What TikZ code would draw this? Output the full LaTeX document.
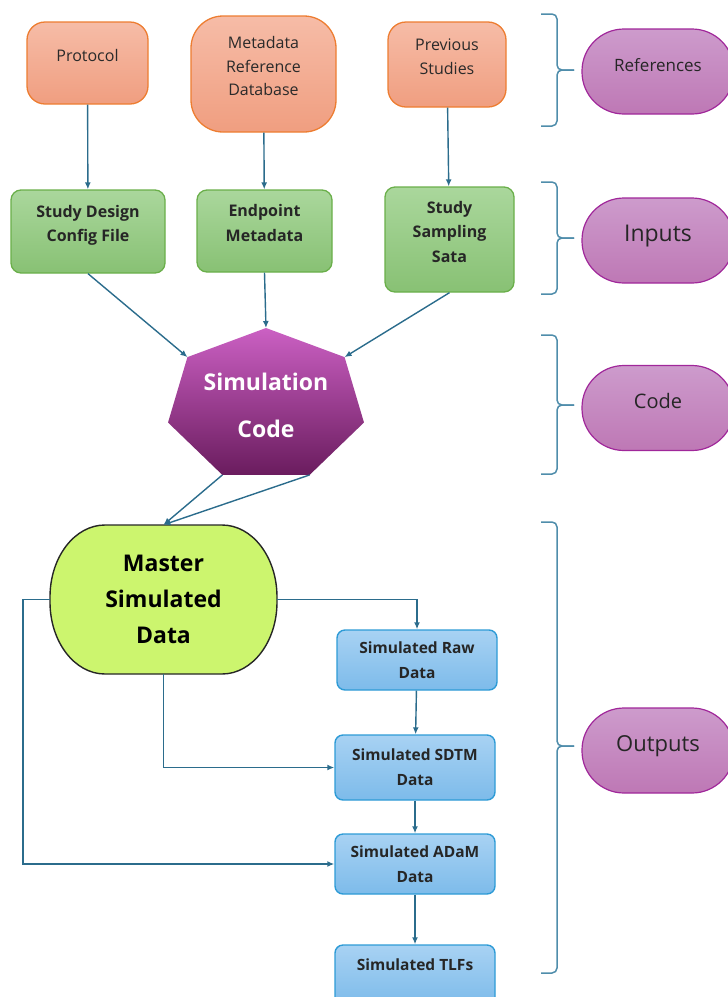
\documentclass[tikz,border=0pt]{standalone}
\usepackage{fontspec}
\setmainfont{Open Sans}
\usetikzlibrary{calc,arrows.meta}

\definecolor{orTop}{HTML}{F6BCA7}
\definecolor{orBot}{HTML}{F09E80}
\definecolor{orEdge}{HTML}{ED7D31}
\definecolor{grTop}{HTML}{AAD79C}
\definecolor{grBot}{HTML}{88C174}
\definecolor{grEdge}{HTML}{6AAF4A}
\definecolor{blTop}{HTML}{A8D2F3}
\definecolor{blBot}{HTML}{7DBBEA}
\definecolor{blEdge}{HTML}{2E9BD6}
\definecolor{puTop}{HTML}{CD9BCC}
\definecolor{puBot}{HTML}{BE78B5}
\definecolor{puEdge}{HTML}{A0279A}
\definecolor{hpTop}{HTML}{CB60C3}
\definecolor{hpBot}{HTML}{6A1C5E}
\definecolor{msFill}{HTML}{CCF56E}
\definecolor{arCol}{HTML}{2B6C8C}
\definecolor{brCol}{HTML}{4F8DAB}
\definecolor{txtGrey}{HTML}{2A2A2A}

% right hand brace: top, bottom, tip
\newcommand{\sidebrace}[3]{%
  \draw[sidebr] (541,#1) -| (557,#3) -- (574,#3);
  \draw[sidebr] (541,#2) -| (557,#3) -- (574,#3);}

\begin{document}
\begin{tikzpicture}[x=1pt, y=-1pt,
                    >={Latex[length=7pt,width=6pt]},
                    refbox/.style={draw=orEdge, line width=1.3pt, top color=orTop, bottom color=orBot, rounded corners=18pt, align=center, text=txtGrey, font=\fontsize{16}{23.5}\selectfont, text depth=16pt},
                    inbox/.style={draw=grEdge, line width=1.3pt, top color=grTop, bottom color=grBot, rounded corners=10pt, align=center, text=black!85, font=\bfseries\fontsize{16}{24.5}\selectfont, text depth=16pt},
                    outbox/.style={draw=blEdge, line width=1.4pt, top color=blTop, bottom color=blBot, rounded corners=8pt, align=center, minimum width=160pt, text=black!85, font=\bfseries\fontsize{15.5}{25}\selectfont},
                    pill/.style={draw=puEdge, line width=1.2pt, top color=puTop, bottom color=puBot, rounded corners=42pt, minimum width=152pt, minimum height=85pt, text=black!85, text depth=14pt},
                    sidebr/.style={draw=brCol, line width=1.5pt, rounded corners=5pt},
                    ra/.style={->, draw=arCol, line width=1.4pt}]

\useasboundingbox (0,0) rectangle (728,997);

% references and inputs
\node [refbox, minimum width=121pt, minimum height=82pt] (proto) at (87.5,63) {Protocol};
\node [refbox, minimum width=145pt, minimum height=116pt, rounded corners=32pt] (mrd) at (263.5,74) {Metadata\\Reference\\Database};
\node [refbox, minimum width=118pt, minimum height=85pt] (prev) at (447,64.5) {Previous\\Studies};

\node [inbox, minimum width=154pt, minimum height=83pt] (sdc) at (88,231.5) {Study Design\\Config File};
\node [inbox, minimum width=135pt, minimum height=82pt] (endp) at (264.5,231) {Endpoint\\Metadata};
\node [inbox, minimum width=129pt, minimum height=105pt] (ssd) at (449.5,239.5) {Study\\Sampling\\Sata};

% simulation code heptagon
\coordinate (codec) at (266,405.3);
\foreach \i in {1,...,7}
  \coordinate (hp\i) at ($(codec)+({270+(\i-1)*360/7}:100.5 and 77.3)$);
\draw [draw=none, top color=hpTop, bottom color=hpBot] (hp1) \foreach \i in {2,...,7}{ -- (hp\i)} -- cycle;
\node [text=white, align=center, font=\bfseries\fontsize{23}{47}\selectfont] (code) at (codec) {Simulation\\Code};

% master data, flat top and bottom with elliptic ends
\draw [draw=black!85, line width=1.4pt, fill=msFill]
  (105,525) -- (222,525) .. controls (252.4,525) and (277,557.2) .. (277,597) -- (277,602)
  .. controls (277,641.8) and (252.4,674) .. (222,674) -- (105,674)
  .. controls (74.6,674) and (50,641.8) .. (50,602) -- (50,597)
  .. controls (50,557.2) and (74.6,525) .. (105,525) -- cycle;
\node [minimum width=227pt, minimum height=149pt, align=center, font=\bfseries\fontsize{23}{36}\selectfont, text depth=0pt] (master) at (163.5,599.5) {Master\\Simulated\\Data};

% outputs
\node [outbox, minimum height=60pt] (raw) at (417,660) {Simulated Raw\\Data};
\node [outbox, minimum height=65pt] (sdtm) at (415,767.5) {Simulated SDTM\\Data};
\node [outbox, minimum height=60pt] (adam) at (415,864) {Simulated ADaM\\Data};
\node [outbox, minimum height=60pt, text depth=20pt] (tlf) at (415,975) {Simulated TLFs};

% side labels
\node [pill, font=\fontsize{17}{20}\selectfont] (lref) at (658,71.5) {References};
\node [pill, font=\fontsize{23}{26}\selectfont] (linp) at (658,240.5) {Inputs};
\node [pill, font=\fontsize{20}{24}\selectfont] (lcode) at (658,408) {Code};
\node [pill, font=\fontsize{22}{26}\selectfont] (lout) at (658,750.5) {Outputs};

\sidebrace{14}{126}{70}
\sidebrace{182}{294}{238}
\sidebrace{335}{474}{405}
\sidebrace{522}{973}{746}

% connectors
\draw [ra] (proto) -- (sdc);
\draw [ra] (mrd) -- (endp);
\draw [ra] (prev) -- (ssd);
\draw [ra] (sdc.south) -- (hp7);
\draw [ra] (endp.south) -- (hp1);
\draw [ra] (ssd.south) -- (hp2);
\draw [ra] (hp5) -- (master.north);
\draw [ra] (hp4) -- (master.north);
\draw [ra] (master.east) -| (raw.north);
\draw [ra] (master.south) |- (sdtm.west);
\draw [ra] (master.west) -- ++(-27,0) |- (adam.west);
\draw [ra] (raw) -- (sdtm);
\draw [ra] (sdtm) -- (adam);
\draw [ra] (adam) -- (tlf);

\end{tikzpicture}
\end{document}
